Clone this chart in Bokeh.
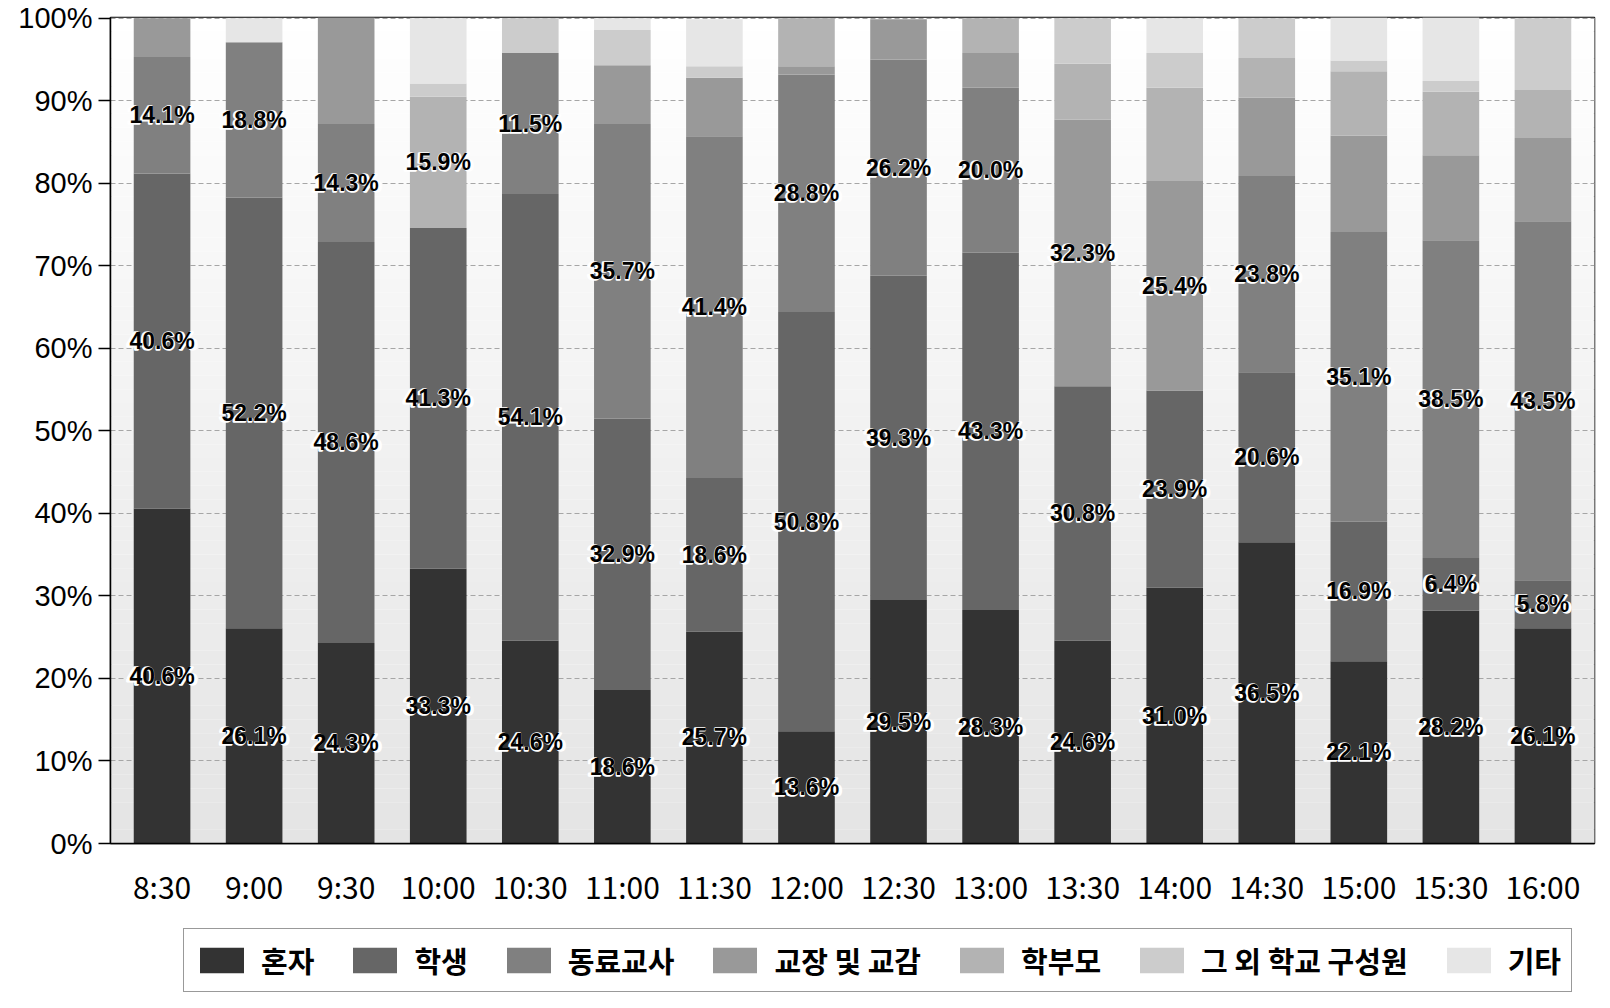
from bokeh.plotting import figure
from bokeh.layouts import column
from bokeh.models import ColumnDataSource, Range1d, FixedTicker, Legend, LegendItem, FactorRange
from bokeh.embed import file_html
from bokeh.resources import INLINE
from bokeh.core.properties import value

times = ["8:30", "9:00", "9:30", "10:00", "10:30", "11:00", "11:30", "12:00",
         "12:30", "13:00", "13:30", "14:00", "14:30", "15:00", "15:30", "16:00"]
series = ["혼자", "학생", "동료교사", "교장 및 교감", "학부모", "그 외 학교 구성원", "기타"]

alone       = [40.6, 26.1, 24.3, 33.3, 24.6, 18.6, 25.7, 13.6, 29.5, 28.3, 24.6, 31.0, 36.5, 22.1, 28.2, 26.1]
students    = [40.6, 52.2, 48.6, 41.3, 54.1, 32.9, 18.6, 50.8, 39.3, 43.3, 30.8, 23.9, 20.6, 16.9, 6.4, 5.8]
colleagues  = [14.1, 18.8, 14.3, 0.0, 17.1, 35.7, 41.4, 28.8, 26.2, 20.0, 0.0, 0.0, 23.8, 35.1, 38.5, 43.5]
principals  = [4.7, 0.0, 12.9, 0.0, 0.0, 7.1, 7.1, 1.0, 4.9, 4.2, 32.3, 25.4, 9.5, 11.7, 10.3, 10.1]
parents     = [0.0, 0.0, 0.0, 15.9, 0.0, 0.0, 0.0, 5.8, 0.0, 4.2, 6.8, 11.3, 4.8, 7.8, 7.7, 5.8]
other_staff = [0.0, 0.0, 0.0, 1.6, 4.2, 4.3, 1.4, 0.0, 0.0, 0.0, 5.5, 4.2, 4.8, 1.3, 1.3, 8.7]
others      = [0.0, 2.9, 0.0, 7.9, 0.0, 1.4, 5.7, 0.0, 0.0, 0.0, 0.0, 4.2, 0.0, 5.2, 7.7, 0.0]

# label text as printed in the source where it differs from the drawn value
label_override = {("10:30", "동료교사"): "11.5%"}

colors = ["#333333", "#666666", "#808080", "#999999", "#b3b3b3", "#cccccc", "#e6e6e6"]

values = [alone, students, colleagues, principals, parents, other_staff, others]
keys = ["s%d" % i for i in range(len(series))]
data = {"time": times}
for k, v in zip(keys, values):
    data[k] = v
source = ColumnDataSource(data)

p = figure(x_range=FactorRange(factors=times, range_padding=0.0075),
           y_range=Range1d(0, 100.1),
           frame_width=1484, frame_height=826,
           output_backend="svg", toolbar_location=None,
           min_border_left=110, min_border_right=16, min_border_top=17,
           min_border_bottom=64, background_fill_color="white",
           border_fill_color="white")

# vertical gradient backdrop of the plot area (categorical offsets span the frame)
nb = 60
def shade(f):
    g = int(round(228 + (255 - 228) * f))
    return "#%02x%02x%02x" % (g, g, g)
bg = ColumnDataSource(dict(
    left=[(times[0], -1.0)] * nb,
    right=[(times[-1], 1.0)] * nb,
    bottom=[100.1 * i / nb for i in range(nb)],
    top=[100.1 * (i + 1) / nb for i in range(nb)],
    color=[shade((i + 0.5) / nb) for i in range(nb)],
))
p.quad(left="left", right="right", bottom="bottom", top="top", source=bg,
       fill_color="color", line_color=None, level="image")

rs = p.vbar_stack(keys, x="time", width=0.615, color=colors, line_color=None,
                  source=source)

# data labels: 혼자, 학생, and the largest of the remaining groups
lx, ly, lt = [], [], []
for j, t in enumerate(times):
    vals = [v[j] for v in values]
    rest = vals[2:]
    k = 2 + rest.index(max(rest))
    for i in (0, 1, k):
        base = sum(vals[:i])
        lx.append(t)
        ly.append(base + vals[i] / 2.0)
        lt.append(label_override.get((t, series[i]), "%.1f%%" % vals[i]))
lsrc = ColumnDataSource(dict(x=lx, y=ly, text=lt))
lab_font = value("Liberation Sans")
# white halo underneath, black text on top
p.text(x="x", y="y", text="text", source=lsrc,
       text_font=lab_font, text_font_size="25px", text_font_style="bold",
       text_align="center", text_baseline="middle", text_color="white",
       text_outline_color="white")
p.text(x="x", y="y", text="text", source=lsrc,
       text_font=lab_font, text_font_size="23px", text_font_style="bold",
       text_align="center", text_baseline="middle", text_color="black")

p.xgrid.visible = False
p.ygrid.grid_line_color = "#a6a6a6"
p.ygrid.grid_line_dash = "5 3"
p.ygrid.grid_line_width = 1

p.outline_line_color = "black"
p.outline_line_width = 1.5

ticks = list(range(0, 101, 10))
p.yaxis.ticker = FixedTicker(ticks=ticks)
p.yaxis.major_label_overrides = {t: "%d%%" % t for t in ticks}
p.yaxis.major_tick_out = 12
p.yaxis.major_tick_in = 0
p.yaxis.minor_tick_line_color = None
p.yaxis.axis_line_color = "black"
p.yaxis.axis_line_width = 1.5
p.yaxis.major_tick_line_color = "black"
p.yaxis.major_tick_line_width = 1.5
p.yaxis.major_label_standoff = 6
p.yaxis.major_label_text_font = "Liberation Sans"
p.yaxis.major_label_text_font_size = "29px"
p.yaxis.major_label_text_color = "black"

p.xaxis.major_tick_line_color = None
p.xaxis.major_tick_out = 0
p.xaxis.axis_line_color = "black"
p.xaxis.axis_line_width = 1.5
p.xaxis.major_label_standoff = 20
p.xaxis.major_label_text_font = "Noto Sans CJK KR"
p.xaxis.major_label_text_font_size = "30px"
p.xaxis.major_label_text_color = "black"

# legend strip below the chart: same series (hidden) serve as legend entries
pl = figure(x_range=FactorRange(factors=times), y_range=Range1d(0, 100),
            width=1610, height=101, min_border=0,
            x_axis_location=None, y_axis_location=None,
            output_backend="svg", toolbar_location=None,
            background_fill_color="white", border_fill_color="white")
pl.outline_line_color = None
pl.grid.visible = False
rs2 = pl.vbar_stack(keys, x="time", width=0.615, color=colors, line_color=None,
                    source=source)
for r in rs2:
    r.visible = False

legend = Legend(items=[LegendItem(label=s, renderers=[r]) for s, r in zip(series, rs2)],
                orientation="horizontal", location=(73, 19),
                glyph_width=55, glyph_height=32, label_standoff=12, spacing=33,
                padding=10, margin=0,
                label_text_font="Noto Sans CJK KR", label_text_font_size="29px",
                label_text_font_style="bold",
                label_text_color="black",
                inactive_fill_alpha=0.0,
                border_line_color="#333333", border_line_width=1.5,
                background_fill_color="white", background_fill_alpha=1.0)
pl.add_layout(legend, "center")

open("out.html", "w").write(file_html(column(p, pl, spacing=0), INLINE))
